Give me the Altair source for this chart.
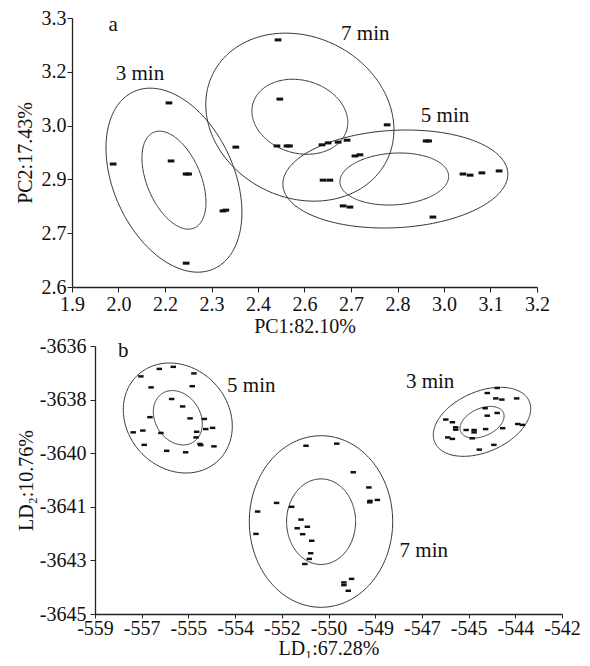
import json
import numpy as np
import pandas as pd
import altair as alt

FONT = "Liberation Serif"

# ---------------- Panel a (PCA) ----------------
a_x_labels = ["1.9", "2.0", "2.2", "2.3", "2.4", "2.6", "2.7", "2.8", "3.0", "3.1", "3.2"]
a_x_domain = [1.9, 3.2]
a_y_labels = ["2.6", "2.7", "2.9", "3.0", "3.2", "3.3"]
a_y_domain = [2.6, 3.3]

a_pts_x = [2.015, 2.171, 2.177, 2.219, 2.226, 2.322, 2.330, 2.219, 2.358,
           2.476, 2.481, 2.473, 2.501, 2.508, 2.599, 2.616, 2.644, 2.669, 2.781,
           2.691, 2.705, 2.621, 2.602, 2.658, 2.677, 2.890, 2.897, 2.909, 2.993,
           3.013, 3.046, 3.094]
a_pts_y = [2.920, 3.079, 2.928, 2.894, 2.894, 2.798, 2.800, 2.662, 2.964,
           3.243, 3.089, 2.967, 2.967, 2.967, 2.970, 2.975, 2.977, 2.982, 3.022,
           2.941, 2.944, 2.878, 2.878, 2.811, 2.808, 2.980, 2.980, 2.782, 2.894,
           2.891, 2.897, 2.902]

a_ell_cx = [2.185, 2.185, 2.537, 2.537, 2.804, 2.801]
a_ell_cy = [2.878, 2.878, 3.042, 3.043, 2.881, 2.881]
a_ell_rx = [0.190, 0.0895, 0.263, 0.134, 0.3145, 0.152]
a_ell_ry = [0.2394, 0.1275, 0.2186, 0.0976, 0.1275, 0.0677]
a_ell_rho = [-0.35, -0.45, -0.15, -0.15, 0.10, 0.10]

a_text = ["a", "3 min", "7 min", "5 min"]
a_text_x = [2.015, 2.09, 2.72, 2.943]
a_text_y = [3.282, 3.154, 3.258, 3.045]

# ---------------- Panel b (LDA) ----------------
b_x_labels = ["-559", "-557", "-555", "-554", "-552", "-550", "-549", "-547", "-545", "-544", "-542"]
b_x_domain = [-559, -542]
b_y_labels = ["-3645", "-3643", "-3641", "-3640", "-3638", "-3636"]
b_y_domain = [-3645, -3636]

b_pts_x = [
    # 5 min
    -556.15, -556.66, -557.33, -555.40, -556.96, -555.46, -556.21, -555.81, -557.00,
    -555.54, -555.02, -557.61, -557.26, -556.60, -555.30, -554.97, -554.72, -555.32,
    -557.21, -555.18, -555.15, -554.67, -556.39, -555.70,
    # 7 min
    -551.32, -550.20, -549.60, -549.03, -548.99, -549.00, -548.72, -553.08, -552.39,
    -553.14, -551.84, -551.50, -551.64, -551.27, -551.44, -551.11, -551.15, -551.20,
    -551.36, -549.94, -549.66, -549.94, -549.78,
    # 3 min
    -544.36, -544.72, -544.41, -544.19, -543.65, -544.80, -544.36, -544.72, -546.23,
    -545.99, -545.87, -545.87, -545.49, -545.20, -545.20, -544.78, -544.16, -543.61,
    -543.44, -546.16, -545.99, -545.27, -544.48, -545.01,
]
b_pts_y = [
    -3636.70, -3636.77, -3637.02, -3636.92, -3637.39, -3637.35, -3637.78, -3638.03, -3638.39,
    -3638.43, -3638.45, -3638.90, -3638.84, -3638.92, -3638.88, -3638.79, -3638.75, -3639.07,
    -3639.32, -3639.29, -3639.33, -3639.37, -3639.52, -3639.57,
    -3639.35, -3639.28, -3640.24, -3640.75, -3641.20, -3641.25, -3641.17, -3641.56, -3641.27,
    -3642.31, -3641.40, -3641.83, -3642.12, -3642.07, -3642.32, -3642.54, -3642.96, -3643.15,
    -3643.32, -3643.94, -3643.82, -3644.03, -3644.22,
    -3637.41, -3637.58, -3637.76, -3637.80, -3637.76, -3638.09, -3638.25, -3638.34, -3638.47,
    -3638.56, -3638.73, -3638.81, -3638.82, -3638.82, -3638.90, -3638.79, -3638.76, -3638.62,
    -3638.65, -3639.07, -3639.12, -3639.10, -3639.32, -3639.48,
]

b_ell_cx = [-555.986, -555.986, -550.773, -550.77, -544.912, -544.91]
b_ell_cy = [-3638.418, -3638.41, -3641.894, -3641.90, -3638.546, -3638.56]
b_ell_rx = [1.984, 0.892, 2.610, 1.256, 1.773, 0.801]
b_ell_ry = [1.847, 0.913, 2.881, 1.437, 1.159, 0.531]
b_ell_rho = [-0.15, -0.22, 0.0, 0.0, 0.38, 0.38]

b_text = ["b", "5 min", "3 min", "7 min"]
b_text_x = [-557.97, -553.31, -546.80, -547.03]
b_text_y = [-3636.16, -3637.33, -3637.22, -3642.87]

MARK_SHAPE = "M-1,-0.45L1,-0.45L1,0.45L-1,0.45Z"


def ellipse_frame(cx, cy, rx, ry, rho, n=240):
    rows = []
    t = np.linspace(0, 2 * np.pi, n)
    for e in range(len(cx)):
        s = np.sqrt(1 - rho[e] ** 2)
        xs = cx[e] + rx[e] * np.cos(t)
        ys = cy[e] + ry[e] * (rho[e] * np.cos(t) + s * np.sin(t))
        for k in range(n):
            rows.append({"eid": e, "k": k, "x": float(xs[k]), "y": float(ys[k])})
    return pd.DataFrame(rows)


def make_axis(labels, lo, hi, title, major=5, **kw):
    n = len(labels)
    half = (hi - lo) / (n - 1) / 2
    vals = [round(lo + i * half, 6) for i in range(2 * (n - 1) + 1)]
    arr = []
    for i, lab in enumerate(labels):
        arr.append(lab)
        if i < n - 1:
            arr.append("")
    idx = f"round((datum.value - ({lo})) / {half})"
    return alt.Axis(
        values=vals,
        labelExpr=f"{json.dumps(arr)}[{idx}]",
        tickSize={"condition": {"test": f"{idx} % 2 == 1", "value": 2}, "value": major},
        title=title,
        grid=False,
        labelFlush=False,
        labelOverlap=False,
        **kw,
    )


def panel(pts_x, pts_y, ecx, ecy, erx, ery, erho, texts, tx, ty,
          xlabels, xdom, ylabels, ydom, xtitle, ytitle, w, h, msize,
          xaxis_kw, yaxis_kw, xrange=None):
    xs = alt.Scale(domain=xdom, nice=False, zero=False) if xrange is None else \
        alt.Scale(domain=xdom, nice=False, zero=False, range=xrange)
    ys = alt.Scale(domain=ydom, nice=False, zero=False)
    xax = make_axis(xlabels, xdom[0], xdom[1], xtitle, **xaxis_kw)
    yax = make_axis(ylabels, ydom[0], ydom[1], ytitle, **yaxis_kw)

    edf = ellipse_frame(ecx, ecy, erx, ery, erho)
    ell = alt.Chart(edf).mark_line(color="#333333", strokeWidth=1).encode(
        x=alt.X("x:Q", scale=xs, axis=xax),
        y=alt.Y("y:Q", scale=ys, axis=yax),
        detail="eid:N",
        order="k:Q",
    )
    pdf = pd.DataFrame({"x": pts_x, "y": pts_y})
    pts = alt.Chart(pdf).mark_point(
        shape=MARK_SHAPE, filled=True, color="#111111", size=msize, opacity=1
    ).encode(x=alt.X("x:Q", scale=xs), y=alt.Y("y:Q", scale=ys))
    tdf = pd.DataFrame({"x": tx, "y": ty, "t": texts})
    txt = alt.Chart(tdf).mark_text(font=FONT, fontSize=21, color="#111111").encode(
        x=alt.X("x:Q", scale=xs), y=alt.Y("y:Q", scale=ys), text="t:N"
    )
    return alt.layer(ell, pts, txt).properties(width=w, height=h)


SHIFT = 23  # panel b's plot starts further right than panel a's

pa = panel(a_pts_x, a_pts_y, a_ell_cx, a_ell_cy, a_ell_rx, a_ell_ry, a_ell_rho,
           a_text, a_text_x, a_text_y, a_x_labels, a_x_domain, a_y_labels, a_y_domain,
           "PC1:82.10%", "PC2:17.43%", 465, 269, 45,
           dict(labelPadding=2, titlePadding=2),
           dict(labelPadding=1, titlePadding=6))
pb = panel(b_pts_x, b_pts_y, b_ell_cx, b_ell_cy, b_ell_rx, b_ell_ry, b_ell_rho,
           b_text, b_text_x, b_text_y, b_x_labels, b_x_domain, b_y_labels, b_y_domain,
           "LD\u2081:67.28%", "LD\u2082:10.76%", 467 + SHIFT, 268, 30,
           dict(labelPadding=0, titlePadding=0, major=4),
           dict(labelPadding=4, titlePadding=3, offset=-SHIFT),
           xrange=[SHIFT, 467 + SHIFT])

chart = alt.concat(pa, pb, columns=1, spacing=0).properties(
    padding={"left": 7, "top": 0, "right": 0, "bottom": 0}
).configure_axis(
    labelFont=FONT, labelFontSize=20, labelColor="#111111",
    titleFont=FONT, titleFontSize=20, titleFontWeight="normal", titleColor="#111111",
    domainColor="#222222", domainWidth=1.3, tickColor="#222222", tickWidth=1,
).configure_view(stroke=None)

chart.save("out.html", embed_options={"renderer": "svg", "actions": False})
